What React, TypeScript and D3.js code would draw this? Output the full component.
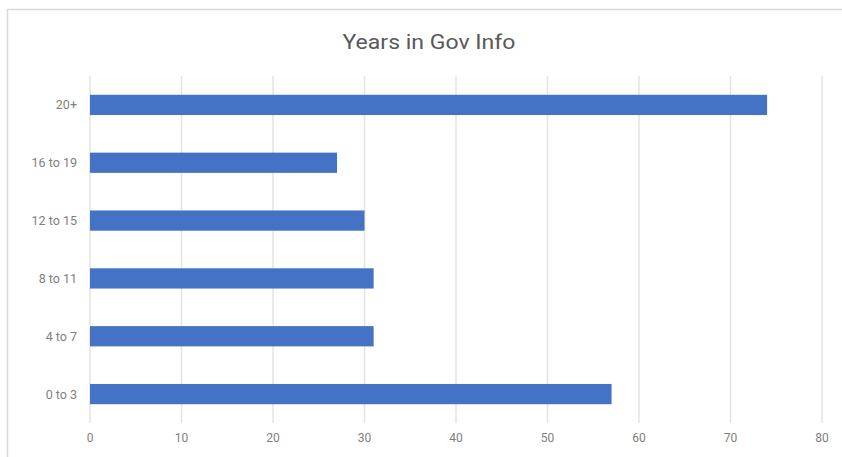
import React from "react";
import * as d3 from "d3";

const categories = ["20+", "16 to 19", "12 to 15", "8 to 11", "4 to 7", "0 to 3"];
const values = [74, 27, 30, 31, 31, 57];
const xTicks = [0, 10, 20, 30, 40, 50, 60, 70, 80];
const title = "Years in Gov Info";

export default function App() {
  const W = 842, H = 457;
  const x = d3.scaleLinear().domain([0, 80]).range([90, 822]);
  const y = d3.scaleBand().domain(categories).range([76, 423]).paddingInner(0.65).paddingOuter(0.325);
  const font = "Roboto, 'Noto Sans', sans-serif";
  return (
    <svg width={W} height={H} style={{ position: "absolute", left: 0, top: 0, background: "#fff" }}>
      <rect x={0} y={0} width={W} height={H} fill="#fff" />
      <line x1={7} y1={9.5} x2={W} y2={9.5} stroke="#d9d9d9" strokeWidth={1.5} />
      <line x1={7.5} y1={9} x2={7.5} y2={H} stroke="#d9d9d9" strokeWidth={1.5} />
      <text x={429} y={49} textAnchor="middle" fontFamily={font} fontSize={21} fill="#595959" textLength={173} lengthAdjust="spacingAndGlyphs">{title}</text>
      {xTicks.map((t) => (
        <g key={t}>
          <line x1={x(t)} x2={x(t)} y1={76} y2={423} stroke="#e3e3e3" strokeWidth={1.5} />
          <text x={x(t)} y={442} textAnchor="middle" fontFamily={font} fontSize={12} fill="#7f7f7f">{t}</text>
        </g>
      ))}
      {categories.map((c, i) => (
        <g key={c}>
          <rect x={x(0)} y={y(c)!} width={x(values[i]) - x(0)} height={y.bandwidth()} fill="#4472C4" />
          <text x={77} y={y(c)! + y.bandwidth() / 2 + 4.5} textAnchor="end" fontFamily={font} fontSize={12.5} fill="#7f7f7f">{c}</text>
        </g>
      ))}
    </svg>
  );
}
